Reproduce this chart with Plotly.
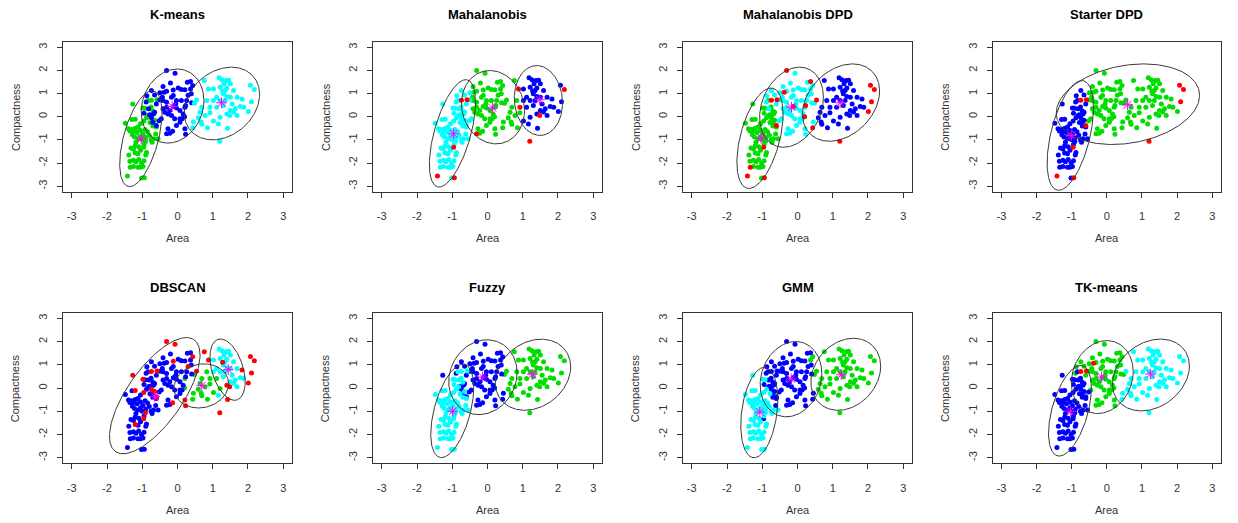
import numpy as np
import plotly.graph_objects as go

# ---------------- data (standardised Area / Compactness) ----------------
AREA = [
    # group 1 (lower-left)
    -1.27, -0.98, -0.92, -0.84, -0.74, -0.58, -0.75, -0.70, -1.29, -1.20,
    -1.48, -1.39, -1.30, -1.25, -1.20, -1.12, -1.05, -0.96, -0.88, -0.82,
    -0.78, -0.70, -0.65, -0.60, -0.55, -0.92, -0.85, -0.80, -0.90, -0.98,
    -1.05, -1.12, -0.75, -0.68, -0.72, -0.91, -0.95, -1.00, -1.22, -1.28,
    -1.18, -1.10, -1.25, -1.32, -1.38, -1.20, -1.12, -1.05, -0.96, -0.88,
    -0.90, -1.35, -1.25, -1.18, -1.10, -1.02, -0.95, -1.25, -1.34, -1.12,
    -1.05, -0.98, -1.42, -1.02, -0.94, -1.20, -1.35, -1.15, -1.05, -0.62,
    # group 2 (middle)
    -0.31, -0.07, -0.20, -0.41, -0.74, -0.65, -0.87, -0.50, -0.31, -0.12,
    0.02, 0.11, 0.21, 0.28, 0.37, 0.43, 0.37, 0.39, 0.26, 0.21,
    0.16, 0.13, 0.07, -0.03, -0.17, -0.31, -0.41, -0.50, -0.60, -0.41,
    -0.36, -0.27, -0.17, -0.31, -0.22, -0.12, -0.03, 0.11, -0.68, -0.74,
    -0.70, -0.60, -0.52, -0.95, -0.89, -0.27, -0.22, -0.14, -0.31, -0.03,
    0.07, 0.21, 0.07, -0.08, -0.46, -0.65, -0.12, -0.43, -0.82, -0.79,
    0.40, -0.05, 0.20, -0.38, 0.23, 0.23, 0.30,
    # group 3 (right)
    0.76, 1.18, 1.26, 1.38, 1.45, 1.32, 1.50, 1.40, 1.35, 1.30,
    1.40, 1.59, 2.07, 2.18, 2.10, 2.01, 1.83, 1.78, 1.88, 1.64,
    1.50, 1.40, 1.48, 1.42, 1.21, 1.16, 1.02, 0.85, 0.69, 0.67,
    0.59, 0.43, 0.45, 0.64, 0.69, 0.54, 0.48, 1.02, 0.92, 1.11,
    1.30, 1.55, 1.69, 1.02, 0.88, 1.20, 1.11, 1.21, 0.78, 0.92,
    1.69, 1.59, 1.50, 1.21, 1.35, 0.83, 1.28,
]
COMPACTNESS = [
    0.55, 0.38, 0.36, 0.70, 0.71, 0.73, 0.42, 0.25, -0.12, -0.11,
    -0.28, -0.52, -0.55, -0.62, -0.50, -0.45, -0.30, -0.19, -0.05, 0.05,
    -0.25, -0.40, -0.15, -0.45, -0.95, -0.55, -0.65, -0.80, -0.90, -0.75,
    -0.85, -0.95, -1.00, -0.95, -1.10, -1.07, -1.20, -1.00, -0.88, -0.78,
    -1.10, -1.30, -1.40, -1.35, -1.65, -1.57, -1.60, -1.45, -1.32, -1.55,
    -1.65, -1.92, -1.88, -1.95, -1.85, -2.00, -1.90, -2.15, -2.18, -2.18,
    -2.18, -2.15, -2.56, -2.65, -2.64, -1.25, -0.62, -0.68, -0.60, -0.75,
    2.00, 1.88, 1.46, 1.30, 1.13, 0.94, 0.91, 1.04, 1.10, 1.15,
    1.24, 1.17, 1.16, 1.49, 1.52, 1.35, 1.20, 0.99, 0.70, 0.41,
    0.12, -0.09, 0.27, 0.70, 0.84, 0.62, 0.70, 0.72, 0.55, 0.34,
    0.19, 0.12, 0.05, 0.41, 0.27, 0.44, 0.38, 0.70, 0.12, -0.05,
    -0.24, -0.38, -0.17, 0.15, 0.63, -0.52, -0.71, -0.63, -0.74, -0.38,
    -0.24, -0.52, -0.09, -0.09, -0.09, 0.19, 0.92, 0.84, 0.34, 0.08,
    0.60, 0.55, 0.00, 1.06, -0.76, 0.48, 0.93,
    1.56, 1.68, 1.60, 1.56, 1.58, 1.42, 1.42, 1.24, 1.13, 0.99,
    0.87, 1.13, 1.36, 1.17, 0.65, 0.22, 0.77, 0.44, 0.41, 0.34,
    0.27, 0.12, 0.05, -0.50, -0.02, -0.31, -0.19, -0.48, -0.33, -0.23,
    -0.05, -0.48, -0.23, 0.19, 0.41, 0.72, 0.58, 0.70, 0.41, 0.41,
    0.48, 0.55, 0.84, 1.20, 1.20, -1.06, 0.84, 0.70, 0.05, 0.17,
    0.05, 0.20, 0.84, 1.27, 0.70, 0.70, 1.11,
]

# cluster colour of every point in each panel (g green, b blue, c cyan, r red/outlier)
LAB_KMEANS = ("gggggggggg" "gggggggggg" "gggggggggg" "gggggggggg" "gggggggggg" "gggggggggg" "gggggggggg"
              "bbbbbbbbbb" "bbbbbbbbbb" "bbbbbbbbbb" "bbbbbbbbbb" "bbbbbbbbbb" "bbbbbbbbbb" "bbbbbbb"
              "cccccccccc" "cccccccccc" "cccccccccc" "cccccccccc" "cccccccccc" "ccccccc")
LAB_MAHAL = ("ccccrrcccc" "cccccccccc" "cccccccccc" "cccccccccc" "ccccccccrc" "cccccccccc" "ccrcrccccc"
             "ggggccccgg" "gggggggggg" "gggggggccg" "ggggggggcc" "cccccgggrg" "ggggccggcc" "ggggggg"
             "gbbbbbbbbb" "bbbrbbbbbb" "bbrbbbbggg" "gggggggbrb" "bbbbrrbbgg" "bbbbbgb")
LAB_MDPD = ("ggggrrgggg" "gggggggggg" "gggggggggg" "gggggggggg" "ggggggggrg" "ggggggggrg" "ggrgrggggg"
            "rccccccccc" "ccccrccccc" "cccccccccc" "cccccrccgg" "grcgcccccc" "cccccgcccg" "ccrrcrc"
            "bbbbbbbbbb" "bbrrrrbbbb" "bbbbbbbbbb" "brcbbrcbbb" "bbbbbrbbbb" "bbbbbbb")
LAB_SDPD = ("bbbbrrbbbb" "bbbbbbbbbb" "bbbbbbbbbb" "bbbbbbbbbb" "bbbbbbbbrb" "bbbbbbbbbb" "bbrbrbbbbb"
            "ggggbbbggg" "gggggggggg" "ggggggggbg" "ggggggggbb" "brgbbggggg" "gggggbggbb" "ggggggg"
            "gggggggggg" "ggrrrggggg" "gggggggggg" "gggggggggg" "gggggrgggg" "ggggggg")
LAB_DBSCAN = ("rrbbrrbbbr" "bbbbbbbrbb" "bbrbbbbbbb" "bbbbbrbbbb" "bbbbbrbbrb" "bbbbbbbbbb" "bbbbbbbbbb"
              "rrbbbbbbbr" "bbbbbrbbbg" "bbbbbbbbbb" "bbbbbbbbbr" "brbbbbbrbb" "brbbbbbbbb" "bbgbrbr"
              "rccccccccc" "ccrrrrrccc" "crrrgcgggg" "gggggrgcgg" "ccccrrccgg" "cccccgr")
LAB_FUZZY = ("bccccccccc" "cccccccccc" "cccccccccc" "cccccccccc" "cccccccccc" "cccccccccc" "cccccccccc"
             "bbbbbbbbbb" "bbbbbbbbbb" "bbbbbbbbbb" "bbbbbbbbbb" "bbbcbbbbbb" "bbbbbbbbcb" "bbbbbbb"
             "gggggggggg" "gggggggggg" "gggggggggg" "gbbggggggg" "gggggggggg" "ggggggg")
LAB_GMM = ("cccbbbbbcc" "cccccccccb" "cbbbcccccc" "cccccccccc" "ccccccccbc" "cccccccccc" "cccccccccb"
           "bbbbbbbbbb" "bbbbbggbbb" "bbbbbbbbbb" "bbbbbbbbbb" "bbbbbbbbbb" "bbbbbbbbbb" "bbbbbbb"
           "gggggggggg" "gggggggggg" "gggggggggg" "gbbggggggg" "gggggggggg" "ggggggg")
LAB_TK = ("bbbbrrbbbb" "bbbbbbbbbb" "bbbbbbbbbb" "bbbbbbbbbb" "bbbbbbbbbb" "bbbbbbbbbb" "bbbbbbbbbb"
          "gggggggggg" "gggggggggg" "gggggggggg" "ggggggggbb" "bbbbgggggg" "gggggbggbb" "gggrggg"
          "cccccccccc" "cccccccccc" "cccccccccc" "ccccccgccc" "cccccccccc" "ccccccc")

TITLES = ["K-means", "Mahalanobis", "Mahalanobis DPD", "Starter DPD",
          "DBSCAN", "Fuzzy", "GMM", "TK-means"]
LABELS = [LAB_KMEANS, LAB_MAHAL, LAB_MDPD, LAB_SDPD, LAB_DBSCAN, LAB_FUZZY, LAB_GMM, LAB_TK]

# ellipses: (centre x, centre y, half-width x, half-height y, correlation)
ELLIPSES = [
    [(-1.04, -0.95, 0.60, 2.07, 0.53), (-0.14, 0.46, 0.89, 1.60, 0.15), (1.26, 0.57, 1.07, 1.57, 0.25)],
    [(-0.995, -0.72, 0.655, 2.32, 0.58), (0.155, 0.41, 0.895, 1.585, -0.10), (1.445, 0.70, 0.685, 1.51, -0.07)],
    [(-1.065, -0.93, 0.655, 2.17, 0.48), (-0.17, 0.41, 0.905, 1.73, 0.25), (1.235, 0.61, 1.095, 1.67, 0.30)],
    [(-1.04, -0.81, 0.66, 2.37, 0.50), (0.60, 0.54, 2.04, 1.74, 0.22)],
    [(-0.645, -0.33, 1.285, 2.50, 0.70), (0.675, 0.09, 0.775, 0.95, 0.10), (1.42, 0.79, 0.50, 1.32, -0.40)],
    [(-1.00, -0.985, 0.61, 2.01, 0.50), (-0.13, 0.465, 0.97, 1.61, 0.12), (1.29, 0.57, 1.07, 1.53, 0.22)],
    [(-1.085, -1.055, 0.525, 1.945, 0.28), (-0.185, 0.38, 0.875, 1.62, 0.15), (1.37, 0.59, 0.99, 1.55, 0.22)],
    [(-1.05, -0.98, 0.61, 1.95, 0.50), (-0.13, 0.47, 0.88, 1.57, 0.15), (1.255, 0.56, 1.095, 1.545, 0.25)],
]
CENTERS_X = [[-1.03, -0.15, 1.25], [-0.96, 0.14, 1.48], [-1.03, -0.17, 1.21], [-1.01, 0.59],
             [-0.65, 0.69, 1.44], [-0.99, -0.14, 1.27], [-1.07, -0.18, 1.24], [-1.03, -0.15, 1.24]]
CENTERS_Y = [[-0.96, 0.44, 0.60], [-0.74, 0.38, 0.73], [-0.93, 0.41, 0.60], [-0.81, 0.52],
             [-0.36, 0.10, 0.79], [-1.00, 0.47, 0.59], [-1.04, 0.39, 0.57], [-1.00, 0.47, 0.60]]

TICKS = [-3, -2, -1, 0, 1, 2, 3]

# ---------------- styling / layout ----------------
COLORS = {"g": "#00DD00", "b": "#0000FF", "c": "#00FFFF", "r": "#FF0000"}
W, H = 1238, 523
COL_PX = [(63.3, 291.7), (373.3, 601.7), (683.3, 911.7), (993.0, 1220.7)]
ROW_PX = [(41.7, 191.7), (312.7, 463.3)]
TITLE_Y = [15, 287]
XLAB_Y = [238, 510]
FONT = "Liberation Sans, Arial, sans-serif"
AXCOL = "#333333"

for lab in LABELS:
    assert len(lab) == len(AREA) == len(COMPACTNESS), len(lab)

fig = go.Figure()
layout = dict(width=W, height=H, margin=dict(l=0, r=0, t=0, b=0),
              paper_bgcolor="white", plot_bgcolor="white", showlegend=False,
              font=dict(family=FONT, size=11, color=AXCOL))
annotations = []

x_arr = np.array(AREA)
y_arr = np.array(COMPACTNESS)
t = np.linspace(0, 2 * np.pi, 240)

for i in range(8):
    r, c = divmod(i, 4)
    xa = f"x{i + 1}" if i else "x"
    ya = f"y{i + 1}" if i else "y"
    lab = np.array(list(LABELS[i]))
    for key in ["g", "b", "c", "r"]:
        m = lab == key
        if m.any():
            fig.add_trace(go.Scatter(x=x_arr[m], y=y_arr[m], mode="markers", xaxis=xa, yaxis=ya,
                                     marker=dict(size=5, color=COLORS[key], line=dict(width=0)),
                                     hoverinfo="skip"))
    for (cx, cy, sx, sy, rho) in ELLIPSES[i]:
        ex = cx + sx * np.cos(t)
        ey = cy + sy * (rho * np.cos(t) + np.sqrt(1 - rho ** 2) * np.sin(t))
        fig.add_trace(go.Scatter(x=ex, y=ey, mode="lines", xaxis=xa, yaxis=ya,
                                 line=dict(color="#3a3a3a", width=1), hoverinfo="skip"))
    fig.add_trace(go.Scatter(x=CENTERS_X[i], y=CENTERS_Y[i], mode="markers", xaxis=xa, yaxis=ya,
                             marker=dict(symbol="asterisk-open", size=9, color="#FF00FF",
                                         line=dict(color="#FF00FF", width=1)),
                             hoverinfo="skip"))

    x0, x1 = COL_PX[c]
    y0, y1 = ROW_PX[r]
    axcommon = dict(range=[-3.24, 3.24], tickvals=TICKS, ticktext=[str(v) for v in TICKS],
                    ticks="outside", ticklen=5, tickcolor=AXCOL, tickwidth=1,
                    showline=True, mirror=True, linecolor=AXCOL, linewidth=1,
                    showgrid=False, zeroline=False, fixedrange=True,
                    tickfont=dict(family=FONT, size=11, color=AXCOL))
    layout["xaxis" + (str(i + 1) if i else "")] = dict(
        axcommon, domain=[x0 / W, x1 / W], anchor=ya, ticklabelstandoff=9)
    layout["yaxis" + (str(i + 1) if i else "")] = dict(
        axcommon, domain=[1 - y1 / H, 1 - y0 / H], anchor=xa, tickangle=-90, ticklabelstandoff=6)

    xc = (x0 + x1) / 2 / W
    annotations.append(dict(text=f"<b>{TITLES[i]}</b>", x=xc, y=1 - TITLE_Y[r] / H, xref="paper",
                            yref="paper", showarrow=False, xanchor="center", yanchor="middle",
                            font=dict(family=FONT, size=13, color="black")))
    annotations.append(dict(text="Area", x=xc, y=1 - XLAB_Y[r] / H, xref="paper", yref="paper",
                            showarrow=False, xanchor="center", yanchor="middle",
                            font=dict(family=FONT, size=11, color=AXCOL)))
    annotations.append(dict(text="Compactness", x=(x0 - 48) / W, y=1 - (y0 + y1) / 2 / H,
                            xref="paper", yref="paper", showarrow=False, textangle=-90,
                            xanchor="center", yanchor="middle",
                            font=dict(family=FONT, size=11, color=AXCOL)))

layout["annotations"] = annotations
fig.update_layout(**layout)
fig.write_html("out.html", config={"displayModeBar": False},
               post_script="document.body.style.margin='0px';document.body.style.overflow='hidden';")
